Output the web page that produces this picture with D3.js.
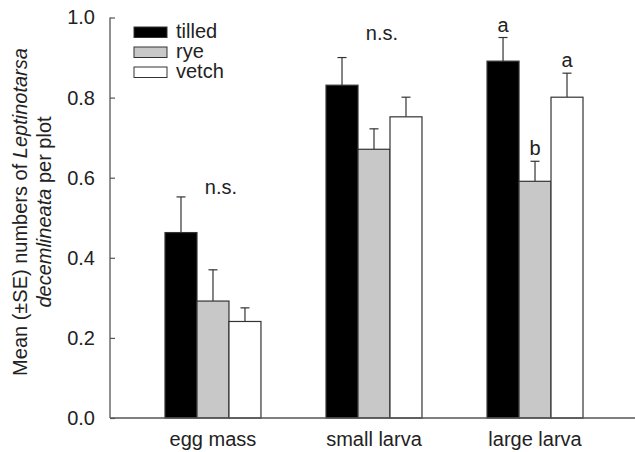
<!DOCTYPE html>
<html>
<head>
<meta charset="utf-8">
<script src="https://cdn.jsdelivr.net/npm/d3@7"></script>
<style>
  body { margin: 0; background: #fff; }
  text { font-family: "Liberation Sans", Arial, sans-serif; fill: #222; }
</style>
</head>
<body>
<script>
// Stages sampled and cover treatments
const stages = ["egg mass", "small larva", "large larva"];
const treatments = ["tilled", "rye", "vetch"];

// Mean counts per plot, one array per treatment (order follows stages)
const tilledMean = [0.463, 0.831, 0.891];
const ryeMean = [0.292, 0.671, 0.591];
const vetchMean = [0.241, 0.752, 0.801];

// Standard errors
const tilledSE = [0.089, 0.069, 0.059];
const ryeSE = [0.078, 0.051, 0.050];
const vetchSE = [0.034, 0.049, 0.060];

const yTicks = [0.0, 0.2, 0.4, 0.6, 0.8, 1.0];

// Significance notes above groups and letters above bars
const groupNotes = ["n.s.", "n.s.", ""];
const groupNoteValues = [0.56, 0.945, null];
const barLetters = [["", "", ""], ["", "", ""], ["a", "b", "a"]];

const width = 635, height = 452;
const fontSize = 20;
const fills = { tilled: "#000000", rye: "#c8c8c8", vetch: "#ffffff" };

const means = { tilled: tilledMean, rye: ryeMean, vetch: vetchMean };
const errs = { tilled: tilledSE, rye: ryeSE, vetch: vetchSE };

const svg = d3.select("body").append("svg")
    .attr("width", width)
    .attr("height", height);

const y = d3.scaleLinear().domain([0, 1]).range([418, 17.5]);
const x = d3.scaleBand().domain(stages).range([165, 583])
    .paddingInner(0.404).paddingOuter(0);
const xs = d3.scaleBand().domain(treatments).range([0, x.bandwidth()]);

// Bars and error bars
const groups = svg.append("g").selectAll("g")
    .data(stages)
    .join("g")
    .attr("transform", d => `translate(${x(d)},0)`);

groups.each(function (stage, i) {
    const g = d3.select(this);
    treatments.forEach(t => {
        const m = means[t][i], e = errs[t][i];
        const cx = xs(t) + xs.bandwidth() / 2;
        g.append("line")
            .attr("x1", cx).attr("x2", cx)
            .attr("y1", y(m)).attr("y2", y(m + e))
            .attr("stroke", "#333").attr("stroke-width", 1.2);
        g.append("line")
            .attr("x1", cx - 4.5).attr("x2", cx + 4.5)
            .attr("y1", y(m + e)).attr("y2", y(m + e))
            .attr("stroke", "#333").attr("stroke-width", 1.2);
        g.append("rect")
            .attr("x", xs(t))
            .attr("y", y(m))
            .attr("width", xs.bandwidth())
            .attr("height", y(0) - y(m))
            .attr("fill", fills[t])
            .attr("stroke", "#333")
            .attr("stroke-width", 1.2);
        const letter = barLetters[i][treatments.indexOf(t)];
        if (letter) {
            g.append("text")
                .attr("x", cx).attr("y", y(m + e) - 6)
                .attr("text-anchor", "middle")
                .attr("font-size", fontSize)
                .text(letter);
        }
    });
    if (groupNotes[i]) {
        g.append("text")
            .attr("x", x.bandwidth() / 2 + 8)
            .attr("y", y(groupNoteValues[i]))
            .attr("text-anchor", "middle")
            .attr("font-size", fontSize)
            .text(groupNotes[i]);
    }
});

// Axes
const axisColor = "#555";
svg.append("line")
    .attr("x1", 110).attr("x2", 110)
    .attr("y1", y(1)).attr("y2", y(0))
    .attr("stroke", axisColor).attr("stroke-width", 1.3);
svg.append("line")
    .attr("x1", 110).attr("x2", width)
    .attr("y1", y(0)).attr("y2", y(0))
    .attr("stroke", axisColor).attr("stroke-width", 1.3);

const yAxis = svg.append("g").attr("transform", "translate(110,0)")
    .call(d3.axisRight(y).tickValues(yTicks).tickSize(5)
        .tickFormat(d3.format(".1f")));
yAxis.select(".domain").remove();
yAxis.selectAll(".tick line").attr("stroke", axisColor).attr("stroke-width", 1.2);
yAxis.selectAll(".tick text")
    .attr("x", -15)
    .attr("text-anchor", "end")
    .attr("font-size", fontSize)
    .attr("fill", "#222");

// Category labels
svg.append("g").selectAll("text")
    .data(stages)
    .join("text")
    .attr("x", d => x(d) + x.bandwidth() / 2)
    .attr("y", 446)
    .attr("text-anchor", "middle")
    .attr("font-size", fontSize)
    .text(d => d);

// Y axis title, two lines with italic species name
const title = svg.append("text")
    .attr("transform", "translate(0,212) rotate(-90)")
    .attr("text-anchor", "middle")
    .attr("font-size", fontSize);
const l1 = title.append("tspan").attr("x", 0).attr("y", 27);
l1.append("tspan").text("Mean (±SE) numbers of ");
l1.append("tspan").attr("font-style", "italic").text("Leptinotarsa");
const l2 = title.append("tspan").attr("x", 0).attr("y", 51);
l2.append("tspan").attr("font-style", "italic").text("decemlineata");
l2.append("tspan").text(" per plot");

// Legend
const legend = svg.append("g").attr("transform", "translate(134,27)");
treatments.forEach((t, i) => {
    legend.append("rect")
        .attr("x", 0).attr("y", i * 20)
        .attr("width", 33).attr("height", 10.5)
        .attr("fill", fills[t])
        .attr("stroke", "#333").attr("stroke-width", 1);
    legend.append("text")
        .attr("x", 42).attr("y", i * 20 + 11)
        .attr("font-size", fontSize)
        .text(t);
});
</script>
</body>
</html>
